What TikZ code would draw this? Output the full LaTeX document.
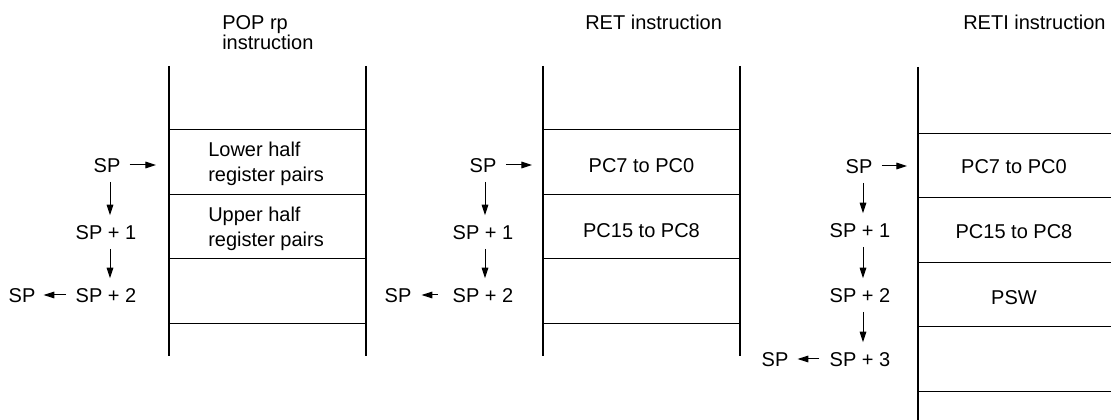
\documentclass[tikz,border=0pt]{standalone}
\usepackage{fontspec}
\setmainfont{Liberation Sans}
\usetikzlibrary{arrows.meta}
\begin{document}
\begin{tikzpicture}[x=0.75pt,y=-0.75pt,
  lbl/.style={inner sep=0pt, text height=10.74pt, text depth=0pt, font=\fontsize{15}{18}\selectfont},
  cell/.style={inner sep=0pt, font=\fontsize{15}{18.75}\selectfont},
  ttl/.style={inner sep=0pt, anchor=base west, align=left, font=\fontsize{15}{15}\selectfont},
  arr/.style={line width=0.75pt, -{Triangle[length=8pt,width=5pt]}},
  wall/.style={line width=2.2pt},
  rule/.style={line width=0.75pt}]
\useasboundingbox (0,0) rectangle (1111,420);

% ---------- titles
\node[ttl] (t1) at (222,50) {POP rp\\instruction};
\node[ttl] (t2) at (585,30) {RET instruction};
\node[ttl] (t3) at (963,30) {RETI instruction};

% ---------- panel 1
\foreach \y in {130,195,259,324} \draw[rule] (169,\y) -- (366,\y);
\draw[wall] (169,66) -- (169,356);
\draw[wall] (366,66) -- (366,356);
\node[cell, anchor=west, align=left] (c11) at (208,164) {Lower half\\register pairs};
\node[cell, anchor=west, align=left] (c12) at (208,228.5) {Upper half\\register pairs};

\node[lbl] (a0) at (107,165) {SP};
\node[lbl] (a1) at (106,232) {SP + 1};
\node[lbl] (a2) at (106,295) {SP + 2};
\node[lbl] (ap) at (22,295) {SP};
\coordinate (aw) at (156,165);
\draw[arr, shorten <=6.75pt] (a0.east) -- (aw);
\draw[arr, shorten <=7pt, shorten >=7pt] (a0.south -| 110,0) -- (a1.north -| 110,0);
\draw[arr, shorten <=7pt, shorten >=7pt] (a1.south -| 110,0) -- (a2.north -| 110,0);
\draw[arr, shorten <=7pt, shorten >=6pt] (a2.west) -- (ap.east);

% ---------- panel 2
\foreach \y in {130,195,259,324} \draw[rule] (543,\y) -- (740,\y);
\draw[wall] (543,66) -- (543,356);
\draw[wall] (740,66) -- (740,356);
\node[lbl] (c21) at (641.5,165) {PC7 to PC0};
\node[lbl] (c22) at (641.5,230) {PC15 to PC8};

\node[lbl] (b0) at (483,165) {SP};
\node[lbl] (b1) at (483,232) {SP + 1};
\node[lbl] (b2) at (483,295) {SP + 2};
\node[lbl] (bp) at (398,295) {SP};
\coordinate (bw) at (532,165);
\draw[arr, shorten <=7pt] (b0.east) -- (bw);
\draw[arr, shorten <=7pt, shorten >=7pt] (b0.south -| 485,0) -- (b1.north -| 485,0);
\draw[arr, shorten <=7pt, shorten >=7pt] (b1.south -| 485,0) -- (b2.north -| 485,0);
\draw[arr, shorten <=11pt, shorten >=7.5pt] (b2.west) -- (bp.east);

% ---------- panel 3
\foreach \y in {134,198,263,327,392} \draw[rule] (918,\y) -- (1111,\y);
\draw[wall] (918,67) -- (918,420);
\node[lbl] (c31) at (1014,166) {PC7 to PC0};
\node[lbl] (c32) at (1014,231) {PC15 to PC8};
\node[lbl] (c33) at (1014,297) {PSW};

\node[lbl] (d0) at (859,166) {SP};
\node[lbl] (d1) at (860,230) {SP + 1};
\node[lbl] (d2) at (860,295) {SP + 2};
\node[lbl] (d3) at (860,359) {SP + 3};
\node[lbl] (dp) at (775,359) {SP};
\coordinate (dw) at (907,166);
\draw[arr, shorten <=7pt] (d0.east) -- (dw);
\draw[arr, shorten <=7pt, shorten >=7pt] (d0.south -| 863,0) -- (d1.north -| 863,0);
\draw[arr, shorten <=7pt, shorten >=7pt] (d1.south -| 863,0) -- (d2.north -| 863,0);
\draw[arr, shorten <=7pt, shorten >=7pt] (d2.south -| 863,0) -- (d3.north -| 863,0);
\draw[arr, shorten <=7.5pt, shorten >=6.75pt] (d3.west) -- (dp.east);
\end{tikzpicture}
\end{document}
